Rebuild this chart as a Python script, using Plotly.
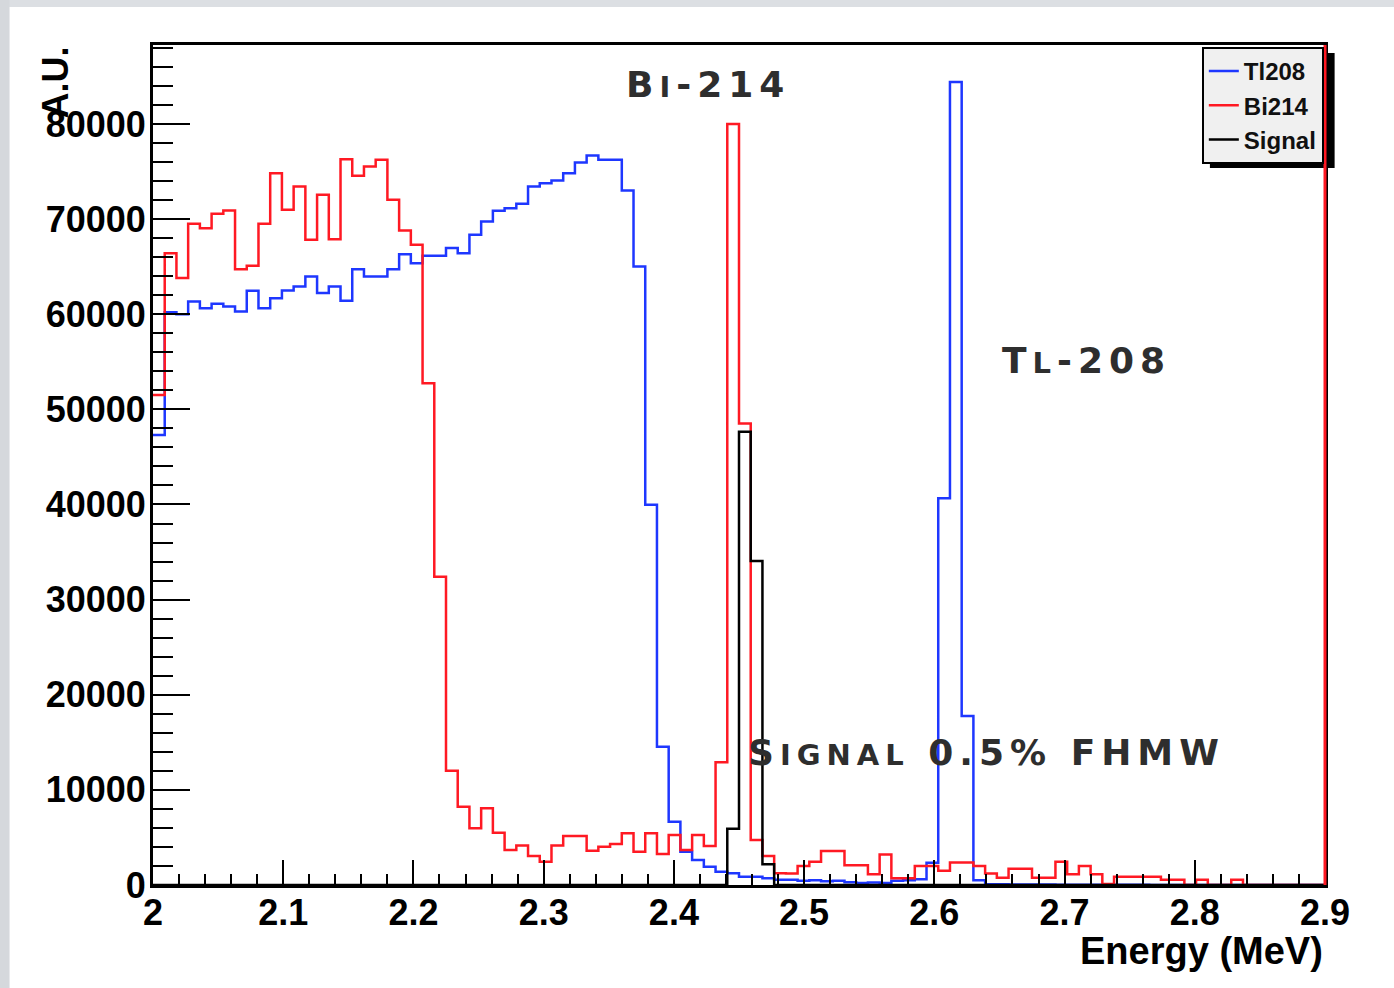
import numpy as np
import plotly.graph_objects as go

# ---------------- data ----------------
e_min, e_max, n_bins = 2.0, 2.9, 100

tl208 = [47300, 60200, 60000, 61340, 60640, 61090, 60810, 60290, 62460, 60640,
         61690, 62500, 62910, 63960, 62220, 62910, 61410, 64740, 63960, 63960,
         64740, 66300, 65370, 66140, 66140, 66950, 66420, 68350, 69750, 70870,
         71150, 71610, 73430, 73780, 74060, 74830, 75950, 76690, 76230, 76230,
         73010, 65020, 39960, 14540, 6660, 3500, 2630, 1930, 1400, 1230,
         870, 870, 700, 560, 560, 450, 500, 400, 450, 300,
         200, 250, 200, 450, 500, 600, 2330, 40660, 84400, 17770,
         500, 90, 70, 60, 50, 40, 40, 30, 30, 30,
         20, 20, 20, 20, 20, 10, 10, 10, 10, 10,
         10, 10, 10, 10, 10, 10, 10, 10, 10, 10]

bi214 = [51500, 66400, 63800, 69500, 69050, 70560, 70900, 64740, 65090, 69500,
         74830, 70980, 73430, 67820, 72550, 67890, 76300, 74550, 75530, 76230,
         72030, 68800, 67300, 52750, 32400, 12020, 8230, 5960, 8060, 5500,
         3680, 4140, 3050, 2450, 4140, 5150, 5150, 3610, 4030, 4310,
         5430, 3500, 5430, 3260, 5260, 3680, 5260, 4100, 12900, 80000,
         48500, 4730, 3050, 1230, 1200, 1990, 2440, 3570, 3570, 2070,
         2070, 1130, 3200, 700, 700, 1990, 2000, 1500, 2370, 2370,
         2000, 1200, 750, 1700, 1700, 750, 750, 2440, 1130, 2000,
         1130, 100, 860, 860, 860, 860, 560, 560, 0, 560,
         0, 0, 560, 0, 0, 0, 0, 0, 0, 0]

signal = [0] * 49 + [5900, 47650, 34070, 2170] + [0] * 47

x_tick_vals = [2.0, 2.1, 2.2, 2.3, 2.4, 2.5, 2.6, 2.7, 2.8, 2.9]
x_tick_text = ["2", "2.1", "2.2", "2.3", "2.4", "2.5", "2.6", "2.7", "2.8", "2.9"]
y_tick_vals = [0, 10000, 20000, 30000, 40000, 50000, 60000, 70000, 80000]
y_tick_text = ["0", "10000", "20000", "30000", "40000", "50000", "60000", "70000", "80000"]

series_names = ["Tl208", "Bi214", "Signal"]
series_colors = ["rgb(30,55,255)", "rgb(255,25,35)", "rgb(0,0,0)"]

# ---------------- figure ----------------
edges = np.linspace(e_min, e_max, n_bins + 1)

fig = go.Figure()
for name, vals, col in zip(series_names, [tl208, bi214, signal], series_colors):
    y = list(vals) + [vals[-1]]
    fig.add_trace(go.Scatter(
        x=edges, y=y, mode="lines", name=name,
        line=dict(color=col, width=2.5, shape="hv"),
        hoverinfo="skip",
    ))

tick_font = dict(family="Liberation Sans, Arial, sans-serif", size=36,
                 color="black", weight="bold")
label_font = dict(family="DejaVu Sans, sans-serif", size=36, color="#2e2e2e",
                  weight="bold")


def small_caps(big, small, rest=""):
    """Copperplate-like small caps with letter spacing."""
    return ('<span style="letter-spacing:6px">' + big +
            '<span style="font-size:29px">' + small + '</span>' + rest + '</span>')


fig.update_layout(
    width=1394, height=988,
    margin=dict(l=153, r=69, t=45, b=103),
    paper_bgcolor="white", plot_bgcolor="white",
    showlegend=True,
    legend=dict(
        x=0.999, xanchor="right", y=0.9976, yanchor="top",
        bgcolor="#f0f0f0", bordercolor="black", borderwidth=2,
        font=dict(family="Liberation Sans, Arial, sans-serif", size=24,
                  color="#111111", weight="bold"),
        itemwidth=30, tracegroupgap=0,
    ),
    xaxis=dict(
        range=[e_min, e_max], showgrid=False, zeroline=False,
        showline=True, linecolor="black", linewidth=3, mirror=True,
        tickmode="array", tickvals=x_tick_vals, ticktext=x_tick_text,
        ticks="inside", ticklen=25, tickwidth=2, tickcolor="black",
        minor=dict(ticks="inside", ticklen=11, tickwidth=2, tickcolor="black",
                   dtick=0.02, tick0=2.0, showgrid=False),
        tickfont=tick_font, ticklabelstandoff=-6,
    ),
    yaxis=dict(
        range=[0, 88300], showgrid=False, zeroline=False,
        showline=True, linecolor="black", linewidth=3, mirror=True,
        tickmode="array", tickvals=y_tick_vals, ticktext=y_tick_text,
        ticks="inside", ticklen=37, tickwidth=2, tickcolor="black",
        minor=dict(ticks="inside", ticklen=20, tickwidth=2, tickcolor="black",
                   dtick=2000, tick0=0, showgrid=False),
        tickfont=tick_font, ticklabelstandoff=-3,
    ),
)

# legend drop shadow (drawn under the legend box)
fig.add_shape(type="rect", xref="paper", yref="paper",
              x0=0.9018, x1=1.0082, y0=0.8536, y1=0.9905,
              fillcolor="black", line=dict(width=0), layer="above")
# red edge along the right frame
fig.add_shape(type="line", xref="paper", yref="paper",
              x0=1.0, x1=1.0, y0=0, y1=1,
              line=dict(color="rgb(255,25,35)", width=3), layer="above")
# window border strips
fig.add_shape(type="rect", xref="paper", yref="paper",
              x0=-0.2, x1=1.1, y0=(885 - 7) / 840, y1=1.1,
              fillcolor="#dcdfe3", line=dict(width=0), layer="below")
fig.add_shape(type="rect", xref="paper", yref="paper",
              x0=-153.4 / 1171.6, x1=(10 - 153.4) / 1171.6, y0=-0.2, y1=1.1,
              fillcolor="#d5d8dc", line=dict(width=0), layer="below")

annotations = [
    dict(text=small_caps("B", "I", "-214"), x=2.426, y=84200, xref="x", yref="y",
         showarrow=False, font=label_font, xanchor="center", yanchor="middle"),
    dict(text=small_caps("T", "L", "-208"), x=2.717, y=55100, xref="x", yref="y",
         showarrow=False, font=label_font, xanchor="center", yanchor="middle"),
    dict(text=small_caps("S", "IGNAL", " 0.5% FHMW"), x=2.640, y=13880,
         xref="x", yref="y",
         showarrow=False, font=label_font, xanchor="center", yanchor="middle"),
    dict(text="A.U.", x=-0.084, y=1.0, xref="paper", yref="paper",
         showarrow=False, textangle=-90, xanchor="center", yanchor="top",
         font=dict(family="Liberation Sans, Arial, sans-serif", size=36,
                   color="black", weight="bold")),
    dict(text="Energy (MeV)", x=1.0, y=-0.0786, xref="paper", yref="paper",
         showarrow=False, xanchor="right", yanchor="middle",
         font=dict(family="Liberation Sans, Arial, sans-serif", size=38,
                   color="black", weight="bold")),
]
fig.update_layout(annotations=annotations)

fig.write_html("out.html")
